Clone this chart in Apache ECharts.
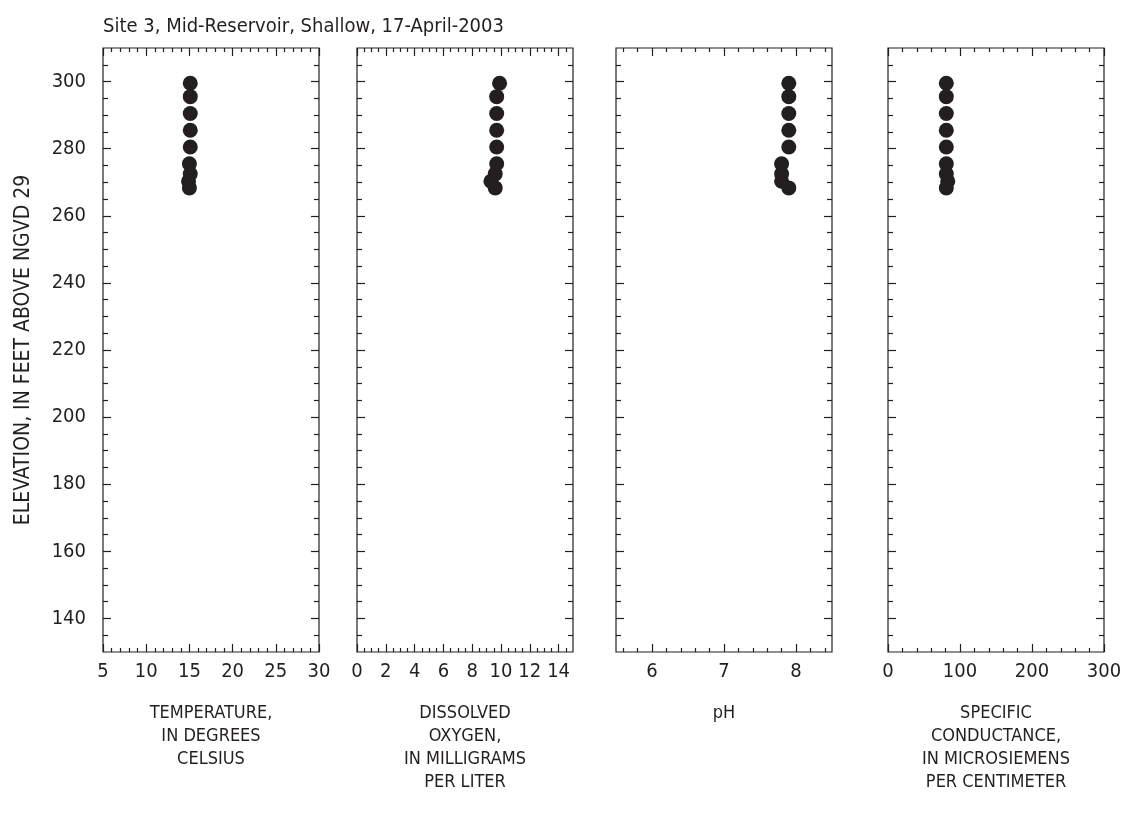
<!DOCTYPE html>
<html>
<head>
<meta charset="utf-8">
<script src="https://cdn.jsdelivr.net/npm/echarts@6/dist/echarts.min.js"></script>
<style>
html,body{margin:0;padding:0;background:#fff;}
#chart{width:1125px;height:816px;}
</style>
</head>
<body>
<div id="chart"></div>
<script>
// ---- data ----
const chartTitle = 'Site 3, Mid-Reservoir, Shallow, 17-April-2003';
const yAxisTitle = 'ELEVATION, IN FEET ABOVE NGVD 29';
const elevation   = [299.5, 295.5, 290.5, 285.5, 280.5, 275.5, 272.5, 270.3, 268.3];
const temperature = [15.1, 15.1, 15.1, 15.1, 15.1, 15.0, 15.1, 14.9, 15.0];
const dissolvedO2 = [9.9, 9.7, 9.7, 9.7, 9.7, 9.7, 9.6, 9.3, 9.6];
const pH          = [7.9, 7.9, 7.9, 7.9, 7.9, 7.8, 7.8, 7.8, 7.9];
const conductance = [81, 81, 81, 81, 81, 81, 81, 83, 81];

const yMin = 130, yMax = 310;
const yMajor = [140, 160, 180, 200, 220, 240, 260, 280, 300];
const yMinor = [135,145,150,155,165,170,175,185,190,195,205,210,215,225,230,235,245,250,255,265,270,275,285,290,295,305];

const tempMajor = [5, 10, 15, 20, 25, 30];
const tempMinor = [6,7,8,9,11,12,13,14,16,17,18,19,21,22,23,24,26,27,28,29];
const doMajor = [0, 2, 4, 6, 8, 10, 12, 14];
const doMinor = [0.5,1,1.5,2.5,3,3.5,4.5,5,5.5,6.5,7,7.5,8.5,9,9.5,10.5,11,11.5,12.5,13,13.5,14.5];
const phMajor = [6, 7, 8];
const phMinor = [5.6,5.8,6.2,6.4,6.6,6.8,7.2,7.4,7.6,7.8,8.2,8.4];
const scMajor = [0, 100, 200, 300];
const scMinor = [20,40,60,80,120,140,160,180,220,240,260,280];

const panelTitles = [
  'TEMPERATURE,\nIN DEGREES\nCELSIUS',
  'DISSOLVED\nOXYGEN,\nIN MILLIGRAMS\nPER LITER',
  'pH',
  'SPECIFIC\nCONDUCTANCE,\nIN MICROSIEMENS\nPER CENTIMETER'
];

// ---- layout / style ----
const FONT = "'Liberation Sans Narrow', 'DejaVu Sans Condensed', 'Roboto', sans-serif";
const INK = '#231f20';
const panels = [
  {left: 103, min: 5,   max: 30,  major: tempMajor, minor: tempMinor, values: temperature},
  {left: 357, min: 0,   max: 15,  major: doMajor,   minor: doMinor,   values: dissolvedO2},
  {left: 616, min: 5.5, max: 8.5, major: phMajor,   minor: phMinor,   values: pH},
  {left: 888, min: 0,   max: 300, major: scMajor,   minor: scMinor,   values: conductance}
];
const gridTop = 48, gridHeight = 604, gridWidth = 216;

const grids = [], xAxes = [], yAxes = [], series = [];
panels.forEach((p, i) => {
  grids.push({left: p.left, top: gridTop, width: gridWidth, height: gridHeight,
    show: true, borderColor: INK, borderWidth: 1.2, backgroundColor: 'transparent',
    containLabel: false, outerBoundsMode: 'none'});
  const xa = (pos, ticks, len, label, name) => ({
    type: 'value', gridIndex: i, position: pos, min: p.min, max: p.max,
    axisLine: {show: false, onZero: false},
    axisTick: {show: true, inside: true, length: len, customValues: ticks,
               lineStyle: {color: INK, width: 1.2}},
    axisLabel: label ? {show: true, customValues: ticks, fontFamily: FONT, fontSize: 20,
               color: INK, margin: 10} : {show: false},
    splitLine: {show: false},
    name: name || '', nameLocation: 'middle', nameGap: 50,
    nameTextStyle: {fontFamily: FONT, fontSize: 18, color: INK, lineHeight: 23, align: 'center', verticalAlign: 'top'}
  });
  xAxes.push(xa('bottom', p.major, 8, true, panelTitles[i]));
  xAxes.push(xa('bottom', p.minor, 4, false));
  xAxes.push(xa('top', p.major, 8, false));
  xAxes.push(xa('top', p.minor, 4, false));
  const ya = (pos, ticks, len, label, name) => ({
    type: 'value', gridIndex: i, position: pos, min: yMin, max: yMax,
    axisLine: {show: false, onZero: false},
    axisTick: {show: true, inside: true, length: len, customValues: ticks,
               lineStyle: {color: INK, width: 1.2}},
    axisLabel: label ? {show: true, customValues: ticks, fontFamily: FONT, fontSize: 20,
               color: INK, margin: 17} : {show: false},
    splitLine: {show: false},
    name: name || '', nameLocation: 'middle', nameGap: 69, nameRotate: 90,
    nameTextStyle: {fontFamily: FONT, fontSize: 21, color: INK}
  });
  yAxes.push(ya('left', yMajor, 8, i === 0, i === 0 ? yAxisTitle : ''));
  yAxes.push(ya('left', yMinor, 5, false));
  yAxes.push(ya('right', yMajor, 8, false));
  yAxes.push(ya('right', yMinor, 5, false));
  series.push({
    type: 'scatter', xAxisIndex: 4 * i, yAxisIndex: 4 * i,
    symbol: 'circle', symbolSize: 15,
    itemStyle: {color: INK, opacity: 1},
    data: p.values.map((v, k) => [v, elevation[k]]),
    z: 5
  });
});

const chart = echarts.init(document.getElementById('chart'), null, {renderer: 'canvas'});
chart.setOption({
  animation: false,
  backgroundColor: '#ffffff',
  title: {text: chartTitle, left: 98, top: 12,
          textStyle: {fontFamily: FONT, fontSize: 20, fontWeight: 'normal', color: INK}},
  grid: grids, xAxis: xAxes, yAxis: yAxes, series: series
});
</script>
</body>
</html>
